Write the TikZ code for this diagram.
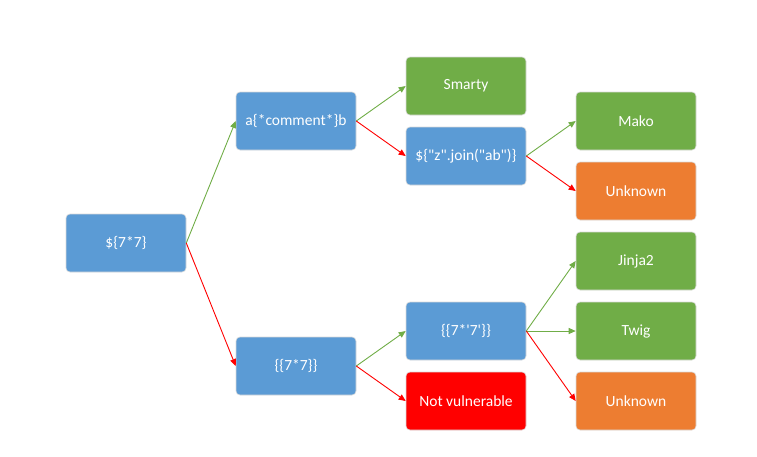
\documentclass[tikz,border=0pt]{standalone}
\usepackage{fontspec}
\newfontfamily\boxfont{Carlito}
\usetikzlibrary{arrows.meta}
\definecolor{nodeblue}{HTML}{5B9BD5}
\definecolor{nodegreen}{HTML}{70AD47}
\definecolor{nodeorange}{HTML}{ED7D31}
\definecolor{nodered}{HTML}{FF0000}
\definecolor{linkgreen}{HTML}{70AD47}
\definecolor{linkred}{HTML}{FF0000}
\tikzset{
  box/.style={rectangle, rounded corners=4pt, minimum width=120pt, minimum height=58pt,
    draw=white!85!black, line width=0.6pt, text=white, font=\boxfont\fontsize{15.5}{18}\selectfont, inner sep=2pt},
  bluebox/.style={box, fill=nodeblue},
  greenbox/.style={box, fill=nodegreen},
  orangebox/.style={box, fill=nodeorange},
  redbox/.style={box, fill=nodered},
  yes/.style={draw=linkgreen, line width=0.9pt, -{Triangle[length=7pt,width=6pt]}},
  no/.style={draw=linkred, line width=0.9pt, -{Triangle[length=7pt,width=6pt]}}
}
\begin{document}
\begin{tikzpicture}[x=1pt,y=-1pt]
\useasboundingbox (0,0) rectangle (757,456);
% level 0
\node[bluebox] (start) at (126,243) {\$\{7*7\}};
% level 1
\node[bluebox] (comment) at (296,121) {a\{*comment*\}b};
\node[bluebox] (curly) at (296,366) {\{\{7*7\}\}};
% level 2
\node[greenbox] (smarty) at (466,86) {Smarty};
\node[bluebox] (join) at (466,156) {\$\{"z".join("ab")\}};
\node[bluebox] (seven) at (466,331) {\{\{7*'7'\}\}};
\node[redbox] (notv) at (466,401) {Not vulnerable};
% level 3
\node[greenbox] (mako) at (636,121) {Mako};
\node[orangebox] (unkA) at (636,191) {Unknown};
\node[greenbox] (jinja) at (636,261) {Jinja2};
\node[greenbox] (twig) at (636,331) {Twig};
\node[orangebox] (unkB) at (636,401) {Unknown};
% branches
\draw[yes] (start.east) -- (comment.west);
\draw[no] (start.east) -- (curly.west);
\draw[yes] (comment.east) -- (smarty.west);
\draw[no] (comment.east) -- (join.west);
\draw[yes] (curly.east) -- (seven.west);
\draw[no] (curly.east) -- (notv.west);
\draw[yes] (join.east) -- (mako.west);
\draw[no] (join.east) -- (unkA.west);
\draw[yes] (seven.east) -- (jinja.west);
\draw[yes] (seven.east) -- (twig.west);
\draw[no] (seven.east) -- (unkB.west);
\end{tikzpicture}
\end{document}
